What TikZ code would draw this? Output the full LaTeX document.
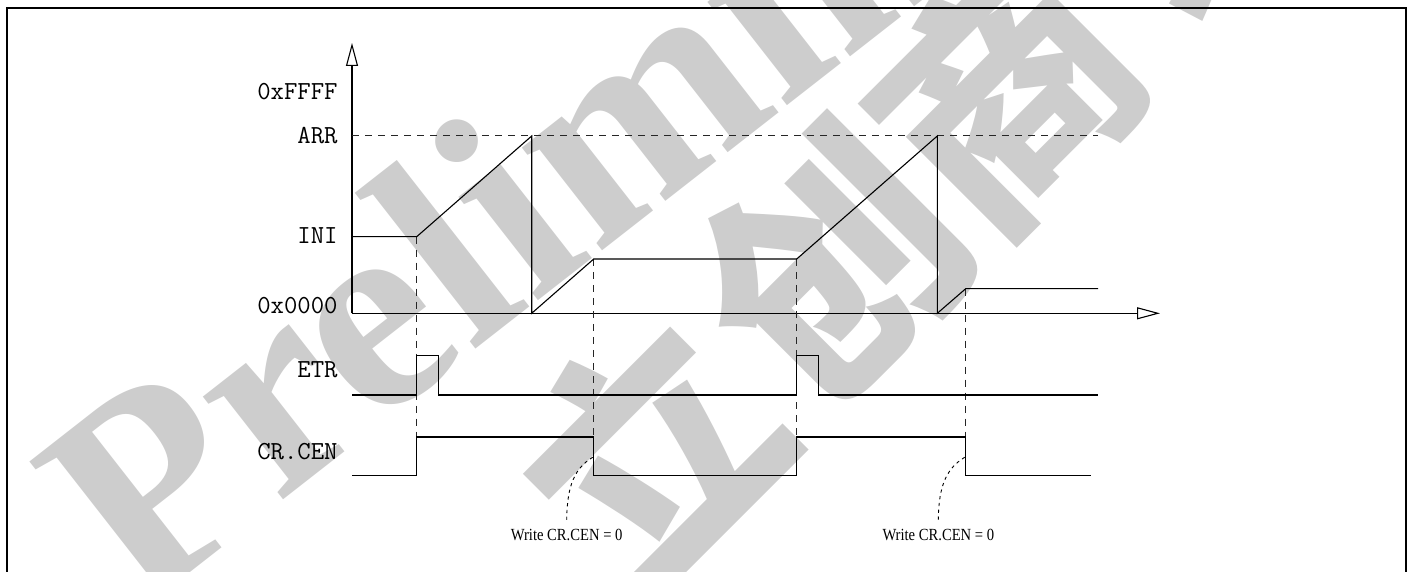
\documentclass[tikz,border=0pt]{standalone}
\usepackage{fontspec}
\setmainfont{Liberation Serif}
\newfontfamily\notefont[FakeStretch=0.86]{Liberation Serif}
\newfontfamily\cjk{Noto Sans CJK SC}
\usetikzlibrary{arrows.meta}
\definecolor{wmgray}{RGB}{205,205,205}
\tikzset{
  wave/.style={line width=0.55pt, black, line join=miter},
  guide/.style={line width=0.5pt, black!85, dash pattern=on 3.5pt off 3pt},
  note/.style={line width=0.45pt, black, dash pattern=on 1.6pt off 1.8pt},
  axisline/.style={line width=0.55pt, black, -{Triangle[open, length=11.5pt, width=6pt]}},
  lbl/.style={anchor=base east, inner sep=0pt, font=\ttfamily\fontsize{13pt}{15pt}\selectfont},
  notelbl/.style={anchor=base, inner sep=0pt, font=\notefont\fontsize{8.5pt}{10pt}\selectfont},
  frame/.style={line width=1pt, black},
  wm/.style={text=wmgray, inner sep=0pt},
  wmcn/.style={wm, rotate=45, anchor=center, font=\cjk\bfseries\fontsize{125pt}{125pt}\selectfont}
}
\begin{document}
\begin{tikzpicture}[x=0.5pt,y=-0.5pt]
\useasboundingbox (0,0) rectangle (1414,572);
% watermark
\begin{scope}
\clip (0,0) rectangle (1414,572);
\node[wm, rotate=38, anchor=base west,
      font=\bfseries\fontsize{142pt}{142pt}\selectfont] (wmtext) at (140,612) {Preliminary};
\node[wmcn] (cn1) at (645,450) {立};
\node[wmcn] (cn2) at (830,265) {创};
\node[wmcn] (cn3) at (1005,92) {商};
\node[wmcn] (cn4) at (1215,-120) {城};
\end{scope}
% frame
\draw[frame] (7,572) -- (7,8) -- (1406,8) -- (1406,572);
% coordinates
\coordinate (O) at (352,313.3);
\coordinate (Ytop) at (352,43);
\coordinate (Xend) at (1160,313.3);
% axes
\draw[axisline] (O) -- (Ytop);
\draw[axisline] (O) -- (Xend);
% labels
\node[lbl] (lffff) at (338,99.8) {0xFFFF};
\node[lbl] (larr) at (338,144) {ARR};
\node[lbl] (lini) at (338,244) {INI};
\node[lbl] (l0) at (338,314) {0x0000};
\node[lbl] (letr) at (338,377.7) {ETR};
\node[lbl] (lcen) at (338,459) {CR.CEN};
% ARR dashed
\draw[guide] (352,136) -- (1098,136);
% guides
\draw[guide] (416.7,236.7) -- (416.7,437);
\draw[guide] (593.7,259) -- (593.7,437);
\draw[guide] (796.7,259) -- (796.7,437);
\draw[guide] (965.7,288.7) -- (965.7,437);
% counter
\draw[wave] (352,236.7) -- (416.7,236.7) -- (531.7,136) -- (531.7,313.3) -- (593.7,259) -- (796.7,259) -- (937.3,136) -- (937.3,313.3) -- (965.7,288.7) -- (1098,288.7);
% ETR
\draw[wave] (352,395) -- (416.7,395) -- (416.7,355.7) -- (438.7,355.7) -- (438.7,395) -- (796.7,395) -- (796.7,355.7) -- (818.7,355.7) -- (818.7,395) -- (1098,395);
% CR.CEN
\draw[wave] (352,475.7) -- (416.7,475.7) -- (416.7,437) -- (593.7,437) -- (593.7,475.7) -- (796.7,475.7) -- (796.7,437) -- (965.7,437) -- (965.7,475.7) -- (1091,475.7);
% notes
\coordinate (n1s) at (592.7,457.3);
\coordinate (n1e) at (566.7,520);
\coordinate (n2s) at (964.7,457.3);
\coordinate (n2e) at (938.3,520);
\draw[note] (n1s) .. controls (575,468) and (567,485) .. (n1e);
\draw[note] (n2s) .. controls (947,468) and (938.6,485) .. (n2e);
\node[notelbl] (w1) at (566.7,540.7) {Write CR.CEN = 0};
\node[notelbl] (w2) at (938.3,540.7) {Write CR.CEN = 0};
\end{tikzpicture}
\end{document}
